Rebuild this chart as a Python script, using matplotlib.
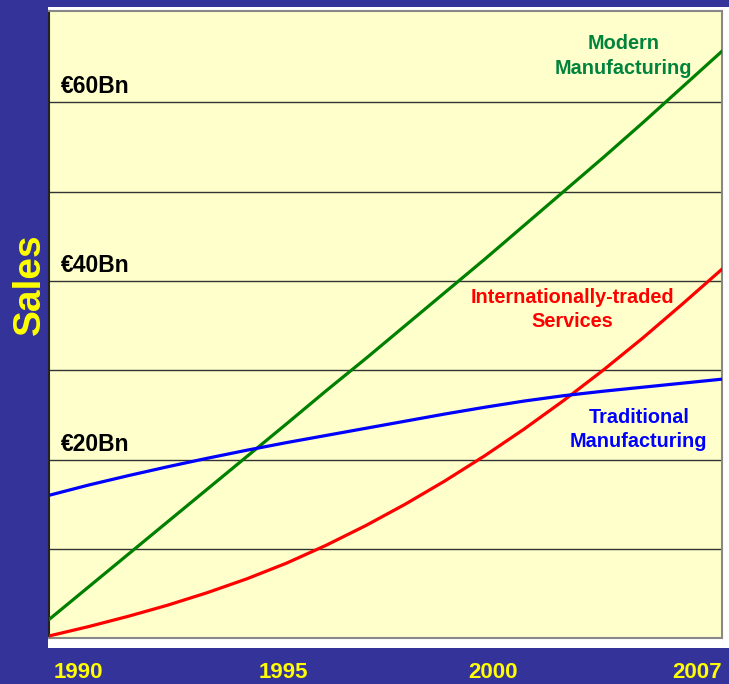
import numpy as np
import matplotlib.pyplot as plt
from matplotlib.patches import Rectangle

plt.rcParams['font.family'] = ['Liberation Sans', 'DejaVu Sans']

# Datos (miles de millones de euros)
years = np.arange(1990, 2008)
modern = [2.1, 5.75, 9.4, 13.05, 16.7, 20.35, 24.0, 27.7, 31.3, 35.0,
          38.7, 42.4, 46.2, 50.0, 53.8, 57.7, 61.7, 65.7]
services = [0.26, 1.31, 2.46, 3.71, 5.11, 6.66, 8.41, 10.41, 12.61, 15.01,
            17.61, 20.41, 23.41, 26.61, 30.01, 33.61, 37.41, 41.31]
traditional = [16.0, 17.15, 18.2, 19.2, 20.15, 21.05, 21.9, 22.7, 23.5, 24.3,
               25.1, 25.85, 26.55, 27.15, 27.65, 28.1, 28.55, 29.0]

year_labels = ["1990", "1995", "2000", "2007"]
year_label_pos = [1990.73, 1995.92, 2001.21, 2006.37]
euro_labels = ["€20Bn", "€40Bn", "€60Bn"]
euro_values = [20, 40, 60]

W, H = 729, 684
fig = plt.figure(figsize=(W / 100, H / 100), dpi=100, facecolor="#333399")

# Marco blanco detrás del área del gráfico
fig.patches.append(Rectangle((48 / W, 1 - 648 / H), (W - 48) / W, 641 / H,
                             transform=fig.transFigure, facecolor="white",
                             edgecolor="none", zorder=-5))

ax = fig.add_axes([49 / W, 1 - 638.3 / H, 673 / W, 627.3 / H])
ax.set_facecolor("#FFFFCC")

ax.plot(years, modern, color="#008000", lw=2.3, zorder=3)
ax.plot(years, services, color="#FF0000", lw=2.3, zorder=3)
ax.plot(years, traditional, color="#0000FF", lw=2.3, zorder=3)

ax.set_xlim(1990, 2007)
ax.set_ylim(0, 70.2)

# Cuadrícula horizontal
ax.set_yticks(np.arange(10, 70, 10))
ax.yaxis.grid(True, color="#333333", lw=1.0)
ax.set_axisbelow(True)
ax.tick_params(axis="y", length=0, labelleft=False)

# Años debajo del gráfico
ax.set_xticks(year_label_pos)
ax.set_xticklabels(year_labels, fontweight="bold")
ax.tick_params(axis="x", length=0, pad=17, labelsize=16, labelcolor="#FFFF00")

for side in ["top", "right", "bottom"]:
    ax.spines[side].set_color("#888888")
    ax.spines[side].set_linewidth(1.5)
ax.spines["left"].set_color("#222222")
ax.spines["left"].set_linewidth(1.5)

# Etiquetas de euros
for lab, v in zip(euro_labels, euro_values):
    ax.text(1990.3, v + 1.0, lab, fontsize=16.5, fontweight="bold",
            color="black", ha="left", va="baseline")

# Nombres de las series
def serie_label(x, ys, lines, color):
    for y, line in zip(ys, lines):
        ax.text(x, y, line, fontsize=14.3, fontweight="bold", color=color,
                ha="center", va="baseline", zorder=4)

serie_label(2004.51, [65.96, 63.19], ["Modern", "Manufacturing"], "#00843C")
serie_label(2003.22, [37.51, 34.83], ["Internationally-traded", "Services"], "#FF0000")
serie_label(2004.9, [24.08, 21.39], ["Traditional", "Manufacturing"], "#0000FF")

fig.text(30 / W, 1 - 284.5 / H, "Sales", rotation=90, fontsize=28,
         fontweight="bold", color="#FFFF00", ha="center", va="center")

fig.savefig("out.png", dpi=100, facecolor=fig.get_facecolor())
